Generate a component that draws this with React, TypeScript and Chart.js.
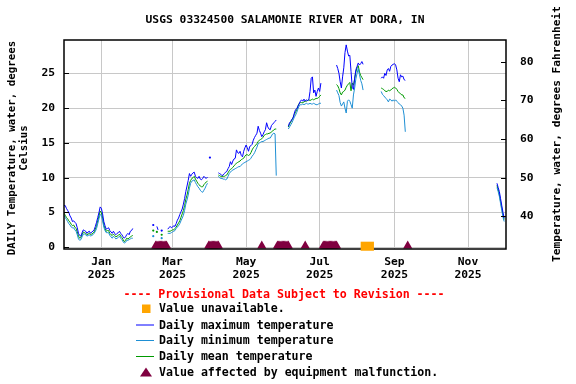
import React, { useEffect, useRef } from 'react';
import { Chart, registerables } from 'chart.js';

Chart.register(...registerables);

const FONT = '"DejaVu Sans Mono", "Liberation Mono", monospace';

const titleText = 'USGS 03324500 SALAMONIE RIVER AT DORA, IN';
const leftTitleLines = ['DAILY Temperature, water, degrees', 'Celsius'];
const rightTitleText = 'Temperature, water, degrees Fahrenheit';
const provisionalText = '---- Provisional Data Subject to Revision ----';
const legendLabels = [
  'Value unavailable.',
  'Daily maximum temperature',
  'Daily minimum temperature',
  'Daily mean temperature',
  'Value affected by equipment malfunction.',
];

// x values are days since 2025-01-01
const monthTickDays = [0, 59, 120, 181, 243, 304];
const monthTickLabels = ['Jan', 'Mar', 'May', 'Jul', 'Sep', 'Nov'];
const yearLabel = '2025';
const celsiusTicks = [0, 5, 10, 15, 20, 25];
const fahrenheitTicks = [40, 50, 60, 70, 80];

// first day of each run of daily values
const segmentStartDays = [-31, 43, 46, 50, 55, 90, 97, 155, 195, 232, 328];

const maxSegments: number[][] = [
  [6.0, 6.0, 5.6, 5.3, 5.0, 4.5, 4.2, 3.7, 3.8, 3.6, 3.4, 2.8, 2.0, 1.7, 1.6, 2.1, 2.5, 2.4, 2.3, 2.0,
   2.2, 2.3, 2.0, 2.2, 2.3, 2.5, 3.0, 3.6, 4.3, 5.0, 5.8, 5.6, 4.8, 3.7, 3.1, 2.6, 2.7, 2.8, 2.4, 2.2,
   2.0, 2.3, 2.0, 1.8, 2.0, 2.1, 2.3, 2.0, 1.8, 1.5, 1.3, 1.5, 1.8, 2.0, 1.8, 2.3, 2.4, 2.7],
  [3.2],
  [3.0, 2.5],
  [2.4],
  [2.6, 2.8, 3.0, 2.8, 2.9, 3.1, 3.0, 3.4, 3.9, 4.2, 4.7, 5.1, 5.5, 6.2, 7.0, 8.0, 8.8, 9.6, 10.6, 10.2,
   10.5, 10.7, 10.8, 10.2, 10.0, 9.9, 10.2, 9.8, 9.7, 9.9, 10.2, 10.0, 9.9, 10.1],
  [12.9],
  [10.7, 10.6, 10.5, 10.3, 10.4, 10.6, 10.8, 10.9, 11.3, 11.6, 12.3, 11.9, 12.4, 12.7, 12.8, 14.0, 13.6,
   13.5, 13.8, 13.2, 13.0, 13.8, 14.3, 14.7, 14.3, 13.8, 14.5, 14.6, 14.8, 15.4, 15.8, 16.1, 16.4, 17.4,
   16.8, 16.4, 15.9, 16.2, 16.6, 16.9, 17.9, 17.3, 17.0, 16.9, 17.5, 17.7, 17.9, 18.1, 18.3],
  [17.4, 17.9, 18.1, 18.4, 18.6, 19.3, 19.8, 19.9, 20.3, 20.6, 21.0, 21.2, 21.0, 21.3, 21.0, 21.2, 21.1,
   21.2, 22.4, 24.3, 24.5, 22.2, 22.6, 21.7, 22.4, 22.9, 22.4, 23.6],
  [26.2, 25.7, 25.0, 23.8, 22.9, 24.5, 25.8, 28.0, 29.1, 28.2, 27.5, 27.6, 25.3, 23.0, 22.7, 24.3, 25.5,
   26.0, 26.5, 26.2, 26.4, 26.7, 26.3],
  [24.3, 24.5, 24.3, 25.0, 24.7, 25.5, 25.7, 25.3, 26.0, 26.2, 26.3, 26.4, 26.2, 25.5, 24.3, 23.8, 24.8,
   24.5, 24.6, 24.1, 24.0],
  [9.2, 8.6, 8.0, 7.0, 6.0, 5.0, 4.2],
];

const meanSegments: number[][] = [
  [4.9, 4.6, 4.3, 4.1, 3.8, 3.6, 3.3, 3.1, 3.2, 2.9, 2.7, 2.2, 1.6, 1.3, 1.4, 1.8, 2.2, 2.1, 2.0, 1.8,
   1.9, 2.0, 1.8, 1.9, 2.0, 2.2, 2.6, 3.1, 3.8, 4.5, 5.2, 5.0, 4.2, 3.2, 2.7, 2.3, 2.4, 2.4, 2.0, 1.8,
   1.7, 1.9, 1.7, 1.5, 1.6, 1.7, 1.9, 1.6, 1.4, 1.1, 0.8, 1.0, 1.3, 1.2, 1.3, 1.5, 1.6, 1.7],
  [2.4],
  [2.2],
  [1.8],
  [2.3, 2.3, 2.3, 2.4, 2.5, 2.5, 2.7, 2.9, 3.2, 3.5, 3.8, 4.3, 4.8, 5.3, 6.0, 6.9, 7.5, 8.3, 9.2, 9.6,
   9.9, 10.0, 10.2, 9.8, 9.5, 9.2, 9.0, 8.8, 8.7, 8.7, 9.0, 9.2, 9.4, 9.5],
  [],
  [10.4, 10.3, 10.2, 10.2, 10.2, 10.2, 10.3, 10.4, 10.7, 11.0, 11.2, 11.3, 11.5, 11.7, 11.9, 12.1, 12.2,
   12.3, 12.4, 12.6, 12.7, 12.8, 13.1, 13.3, 13.3, 13.2, 13.3, 13.6, 14.0, 14.3, 14.5, 14.7, 14.9, 15.2,
   15.4, 15.5, 15.6, 15.8, 16.1, 16.2, 16.3, 16.3, 16.4, 16.4, 16.6, 16.7, 16.9, 17.0, 17.0],
  [17.3, 17.7, 18.0, 18.3, 18.7, 19.1, 19.4, 19.8, 20.3, 20.7, 20.8, 20.8, 20.8, 20.9, 21.0, 21.0, 21.1,
   21.2, 21.1, 21.2, 21.3, 21.2, 21.3, 21.4, 21.4, 21.5, 21.7, 21.9],
  [23.4, 23.2, 22.8, 22.2, 21.9, 22.3, 22.4, 22.6, 23.0, 23.3, 23.5, 23.7, 22.5, 23.6, 23.3, 24.2, 25.2,
   25.8, 26.1, 25.2, 24.7, 24.4, 24.1],
  [22.9, 22.8, 22.7, 22.5, 22.4, 22.4, 22.6, 22.5, 22.6, 22.8, 22.9, 23.0, 22.9, 22.7, 22.4, 22.2, 22.1,
   21.9, 21.9, 21.5, 21.4],
  [8.9, 8.3, 7.6, 6.6, 5.6, 4.6, 4.0],
];

const minSegments: number[][] = [
  [4.6, 4.3, 4.0, 3.7, 3.4, 3.2, 2.9, 2.8, 2.8, 2.5, 2.3, 1.8, 1.2, 1.0, 1.1, 1.5, 1.9, 1.9, 1.8, 1.6,
   1.7, 1.8, 1.6, 1.7, 1.8, 2.0, 2.3, 2.7, 3.4, 4.1, 4.7, 4.6, 3.8, 2.9, 2.4, 2.1, 2.1, 2.1, 1.7, 1.5,
   1.3, 1.6, 1.4, 1.2, 1.3, 1.4, 1.6, 1.3, 1.1, 0.8, 0.6, 0.7, 1.0, 1.0, 1.1, 1.2, 1.3, 1.3],
  [1.6],
  [],
  [1.3],
  [2.0, 2.0, 2.0, 2.1, 2.2, 2.3, 2.4, 2.7, 2.9, 3.1, 3.4, 3.8, 4.2, 4.6, 5.3, 6.2, 6.8, 7.5, 8.5, 9.2,
   9.5, 9.6, 9.7, 9.3, 9.0, 8.7, 8.5, 8.2, 8.0, 7.9, 8.2, 8.5, 8.9, 9.2],
  [],
  [10.2, 10.0, 9.9, 9.9, 9.8, 9.8, 9.7, 9.8, 10.2, 10.6, 10.8, 11.0, 11.1, 11.2, 11.3, 11.4, 11.5, 11.6,
   11.6, 11.8, 12.0, 12.1, 12.2, 12.3, 12.4, 12.5, 12.6, 12.8, 13.1, 13.3, 13.6, 14.0, 14.4, 14.9, 15.0,
   15.1, 15.2, 15.2, 15.3, 15.4, 15.5, 15.6, 15.7, 15.7, 16.0, 16.3, 16.4, 16.3, 10.3],
  [17.0, 17.3, 17.6, 17.9, 18.3, 18.7, 19.0, 19.4, 19.9, 20.3, 20.5, 20.5, 20.6, 20.5, 20.6, 20.7, 20.6,
   20.6, 20.7, 20.6, 20.6, 20.7, 20.6, 20.5, 20.5, 20.6, 20.7, 20.7],
  [22.6, 22.2, 21.8, 20.8, 20.3, 20.6, 20.9, 20.0, 19.3, 21.0, 21.2, 21.0, 20.5, 20.0, 21.9, 22.9, 24.2,
   25.0, 25.7, 24.8, 24.0, 23.5, 22.6],
  [22.4, 22.0, 21.8, 21.6, 21.4, 21.2, 20.9, 21.3, 21.2, 21.0, 21.2, 21.0, 21.2, 21.0, 20.8, 20.6, 20.5,
   20.3, 20.0, 19.0, 16.6],
  [8.6, 8.0, 7.3, 6.3, 5.3, 4.3, 3.7],
];

// equipment malfunction runs (inclusive day ranges)
const malfunctionStartDays = [45, 89, 133, 146, 169, 184, 254];
const malfunctionEndDays = [54, 97, 133, 155, 169, 195, 254];
const malfunctionMarkerValue = 0.2;

// value unavailable periods
const unavailableStartDays = [215];
const unavailableEndDays = [226];

const COLORS = {
  max: '#0000ff',
  min: '#1e8fd4',
  mean: '#009a00',
  malfunction: '#800040',
  unavailable: '#ffa500',
  grid: '#c8c8c8',
  provisional: '#ff0000',
};

function buildSeries(segs: number[][]) {
  const pts: any[] = [];
  segs.forEach((vals, s) => {
    if (!vals.length) return;
    if (pts.length) pts.push({ x: segmentStartDays[s] - 0.5, y: null });
    vals.forEach((v, i) =>
      pts.push({ x: segmentStartDays[s] + i, y: v, single: vals.length === 1 })
    );
  });
  return pts;
}

function buildMalfunction() {
  const pts: any[] = [];
  malfunctionStartDays.forEach((s, i) => {
    for (let d = s; d <= malfunctionEndDays[i]; d++) pts.push({ x: d, y: malfunctionMarkerValue });
  });
  return pts;
}

const cToF = (c: number) => c * 1.8 + 32;
const Y_MIN = -0.25;
const Y_MAX = 29.8;

const usgsPlugin = {
  id: 'usgsDecor',
  afterDatasetsDraw(chart: any) {
    const { ctx, chartArea: a, scales } = chart;
    ctx.save();
    // frame
    ctx.strokeStyle = '#000';
    ctx.lineWidth = 1.5;
    ctx.strokeRect(a.left, a.top, a.right - a.left, a.bottom - a.top);
    // inside tick marks
    ctx.lineWidth = 1;
    celsiusTicks.forEach((v) => {
      const y = Math.round(scales.y.getPixelForValue(v)) + 0.5;
      ctx.beginPath();
      ctx.moveTo(a.left, y);
      ctx.lineTo(a.left + 5, y);
      ctx.stroke();
    });
    fahrenheitTicks.forEach((v) => {
      const y = Math.round(scales.y2.getPixelForValue(v)) + 0.5;
      ctx.beginPath();
      ctx.moveTo(a.right - 5, y);
      ctx.lineTo(a.right, y);
      ctx.stroke();
    });
    // unavailable periods
    ctx.fillStyle = COLORS.unavailable;
    unavailableStartDays.forEach((s, i) => {
      const x0 = scales.x.getPixelForValue(s);
      const x1 = scales.x.getPixelForValue(unavailableEndDays[i]);
      const y0 = scales.y.getPixelForValue(0.8);
      const y1 = scales.y.getPixelForValue(-0.5);
      ctx.fillRect(x0, y0, x1 - x0, y1 - y0);
    });
    ctx.restore();
  },
  afterDraw(chart: any) {
    const { ctx, chartArea: a } = chart;
    ctx.save();
    ctx.fillStyle = '#000';
    ctx.textBaseline = 'middle';
    // title
    ctx.textAlign = 'center';
    ctx.font = `bold 11.3px ${FONT}`;
    ctx.fillText(titleText, (a.left + a.right) / 2, 20);
    // left axis title
    ctx.save();
    ctx.font = `bold 10.8px ${FONT}`;
    ctx.translate(12, 148);
    ctx.rotate(-Math.PI / 2);
    ctx.fillText(leftTitleLines[0], 0, 0);
    ctx.fillText(leftTitleLines[1], 0, 12);
    ctx.restore();
    // right axis title
    ctx.save();
    ctx.font = `bold 11.2px ${FONT}`;
    ctx.translate(557, 134);
    ctx.rotate(-Math.PI / 2);
    ctx.fillText(rightTitleText, 0, 0);
    ctx.restore();
    // legend
    ctx.font = `bold 11.6px ${FONT}`;
    ctx.fillStyle = COLORS.provisional;
    ctx.fillText(provisionalText, 284, 295);
    ctx.textAlign = 'left';
    ctx.fillStyle = '#000';
    const rows = [309, 325.5, 341, 357, 373];
    legendLabels.forEach((t, i) => ctx.fillText(t, 159, rows[i]));
    ctx.fillStyle = COLORS.unavailable;
    ctx.fillRect(142, 304.5, 8.5, 8.5);
    const lineCols = [COLORS.max, COLORS.min, COLORS.mean];
    [324.5, 340, 356].forEach((y, i) => {
      ctx.strokeStyle = lineCols[i];
      ctx.lineWidth = 1;
      ctx.beginPath();
      ctx.moveTo(136, y + 0.5);
      ctx.lineTo(154, y + 0.5);
      ctx.stroke();
    });
    ctx.fillStyle = COLORS.malfunction;
    ctx.beginPath();
    ctx.moveTo(140, 376.5);
    ctx.lineTo(152, 376.5);
    ctx.lineTo(146, 367.5);
    ctx.closePath();
    ctx.fill();
    ctx.restore();
  },
};

export default function App() {
  const ref = useRef<HTMLCanvasElement>(null);
  useEffect(() => {
    if (!ref.current) return;
    const tickFont = { family: FONT, size: 11.3, weight: 'bold' as const, lineHeight: 1.15 };
    const lineDs = (label: string, segs: number[][], color: string) => ({
      label,
      data: buildSeries(segs),
      showLine: true,
      borderColor: color,
      backgroundColor: color,
      borderWidth: 1,
      pointRadius: (c: any) => (c.raw && c.raw.single ? 1.1 : 0),
      pointBorderWidth: 0,
      pointBackgroundColor: color,
      spanGaps: false,
      xAxisID: 'x',
      yAxisID: 'y',
    });
    const chart = new Chart(ref.current, {
      type: 'scatter',
      data: {
        datasets: [
          lineDs('Daily maximum temperature', maxSegments, COLORS.max),
          lineDs('Daily minimum temperature', minSegments, COLORS.min),
          lineDs('Daily mean temperature', meanSegments, COLORS.mean),
          {
            label: 'Value affected by equipment malfunction.',
            data: buildMalfunction(),
            showLine: false,
            pointStyle: 'triangle',
            pointRadius: 5.3,
            pointBorderWidth: 0,
            pointBackgroundColor: COLORS.malfunction,
            backgroundColor: COLORS.malfunction,
            borderColor: COLORS.malfunction,
            clip: false,
            xAxisID: 'x',
            yAxisID: 'y',
          } as any,
        ],
      },
      options: {
        responsive: false,
        animation: false,
        devicePixelRatio: 1,
        events: [],
        layout: { padding: { top: 40, left: 0, right: 0, bottom: 0 } },
        plugins: { legend: { display: false }, tooltip: { enabled: false }, title: { display: false } },
        scales: {
          x: {
            type: 'linear',
            position: 'bottom',
            min: -31,
            max: 335.5,
            afterBuildTicks: (s: any) => {
              s.ticks = monthTickDays.map((v) => ({ value: v }));
            },
            afterFit: (s: any) => {
              s.height = 135;
            },
            ticks: {
              autoSkip: false,
              maxRotation: 0,
              minRotation: 0,
              padding: 7,
              color: '#000',
              font: tickFont,
              callback: (_v: any, i: number) => [monthTickLabels[i], yearLabel],
            },
            grid: { color: COLORS.grid, lineWidth: 1, drawTicks: false },
            border: { display: false },
          },
          y: {
            type: 'linear',
            position: 'left',
            min: Y_MIN,
            max: Y_MAX,
            afterBuildTicks: (s: any) => {
              s.ticks = celsiusTicks.map((v) => ({ value: v }));
            },
            afterFit: (s: any) => {
              s.width = 64;
            },
            ticks: { padding: 9, color: '#000', font: tickFont, callback: (v: any) => String(v) },
            grid: { color: COLORS.grid, lineWidth: 1, drawTicks: false },
            border: { display: false },
          },
          y2: {
            type: 'linear',
            position: 'right',
            min: cToF(Y_MIN),
            max: cToF(Y_MAX),
            afterBuildTicks: (s: any) => {
              s.ticks = fahrenheitTicks.map((v) => ({ value: v }));
            },
            afterFit: (s: any) => {
              s.width = 70;
            },
            ticks: { padding: 14, color: '#000', font: tickFont, callback: (v: any) => String(v) },
            grid: { drawOnChartArea: false, drawTicks: false },
            border: { display: false },
          },
        },
      } as any,
      plugins: [usgsPlugin],
    });
    return () => chart.destroy();
  }, []);
  return (
    <div style={{ position: 'absolute', left: 0, top: 0, width: 576, height: 384, background: '#fff' }}>
      <canvas ref={ref} width={576} height={384} style={{ display: 'block', width: 576, height: 384 }} />
    </div>
  );
}
